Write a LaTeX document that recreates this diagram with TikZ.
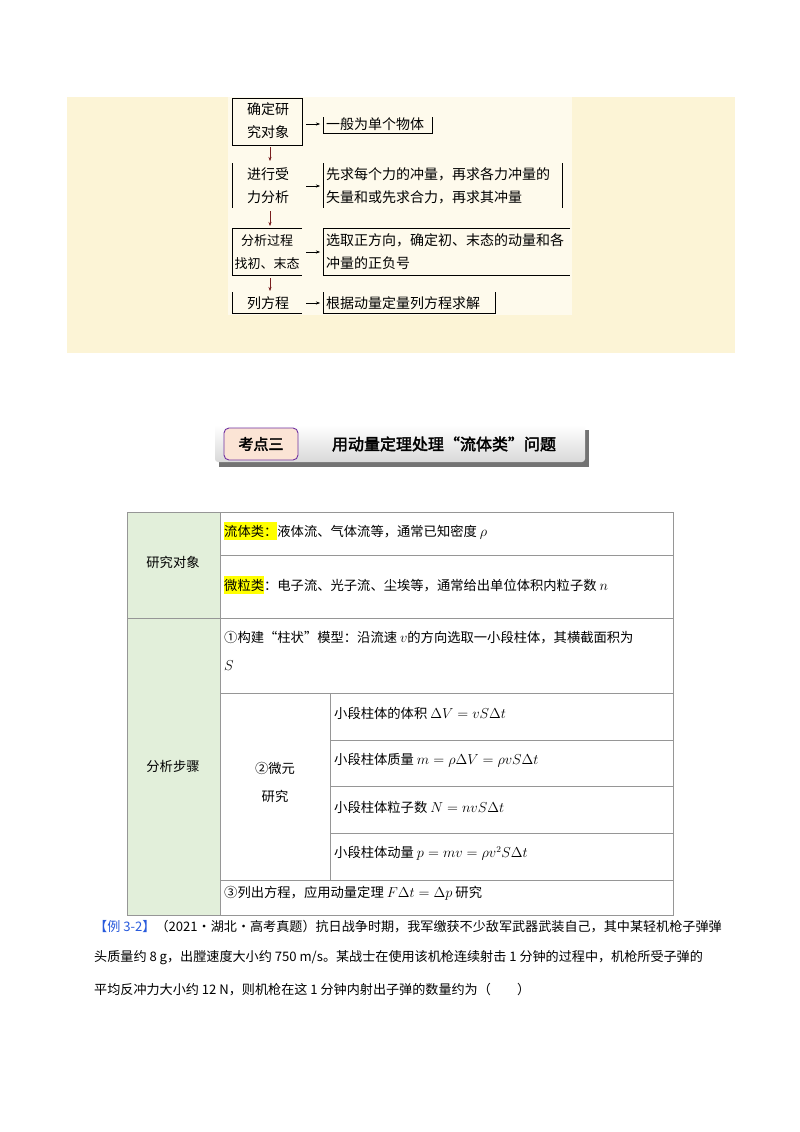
\documentclass[tikz,border=0pt]{standalone}
\usepackage{fontspec}
\newfontfamily\cjk{Noto Sans CJK SC}
\newfontfamily\cjkb[FakeBold=2.5]{Noto Sans CJK SC}
\usetikzlibrary{positioning, arrows.meta, shadows}
\definecolor{bandfill}{RGB}{252, 244, 214}
\definecolor{picfill}{RGB}{254, 250, 236}
\definecolor{cellgreen}{RGB}{226, 239, 218}
\definecolor{tagfill}{RGB}{251, 228, 213}
\definecolor{tagline}{RGB}{112, 48, 160}
\definecolor{rulegray}{RGB}{150, 150, 150}
\definecolor{arrowred}{RGB}{120, 30, 30}
\definecolor{hiyellow}{RGB}{255, 255, 0}
\definecolor{exblue}{RGB}{40, 90, 220}
\tikzset{
    x=1pt, y=-1pt,
    every node/.style={font=\cjk\fontsize{14}{23}\selectfont},
    flowtext/.style={align=center, inner sep=0pt},
    steptext/.style={align=left, inner sep=0pt},
    downarrow/.style={-{Stealth[length=4pt]}, arrowred, thin},
    sidearrow/.style={-{Stealth[length=4pt]}, black, thin},
    cellrule/.style={rulegray, line width=0.8pt},
    celltext/.style={anchor=west, inner sep=0pt, align=left,
        font=\cjk\fontsize{13.3}{28}\selectfont},
}
\newcommand{\hl}[1]{\colorbox{hiyellow}{\hspace{-3pt}#1\hspace{-3pt}}}
\begin{document}
\begin{tikzpicture}
    \useasboundingbox (0, 0) rectangle (800, 1132);
    \fill[white] (0, 0) rectangle (800, 1132);
    % flow chart band
    \fill[bandfill] (67, 97) rectangle (735, 353);
    \fill[picfill] (228, 97) rectangle (572, 315);
    \draw[thin] (232, 98) rectangle (302, 145);
    \draw[thin] (232, 163) -- (232, 208);
    \draw[thin] (302, 228) -- (232, 228) -- (232, 275) -- (302, 275);
    \draw[thin] (232, 292) -- (232, 313) -- (302, 313);
    \draw[thin] (323, 117) -- (323, 133) -- (432, 133) -- (432, 117);
    \draw[thin] (323, 163) -- (323, 208);
    \draw[thin] (562, 163) -- (562, 208);
    \draw[thin] (570, 228) -- (323, 228) -- (323, 275) -- (570, 275);
    \draw[thin] (323, 292) -- (323, 313) -- (495, 313) -- (495, 292);
    \node[flowtext] (obj) at (268, 121) {确定研\\究对象};
    \node[flowtext] (force) at (268, 186) {进行受\\力分析};
    \node[flowtext, font=\cjk\fontsize{13}{23}\selectfont] (proc) at (267, 252)
        {分析过程\\找初、末态};
    \node[flowtext] (eqn) at (268, 303) {列方程};
    \node[steptext, anchor=west] (objr) at (326, 124) {一般为单个物体};
    \node[steptext, anchor=west] (forcer) at (326, 186)
        {先求每个力的冲量，再求各力冲量的\\矢量和或先求合力，再求其冲量};
    \node[steptext, anchor=west] (procr) at (326, 252)
        {选取正方向，确定初、末态的动量和各\\冲量的正负号};
    \node[steptext, anchor=west] (eqnr) at (326, 303) {根据动量定量列方程求解};
    \draw[downarrow] (270, 147) -- (270, 161);
    \draw[downarrow] (270, 211) -- (270, 226);
    \draw[downarrow] (270, 278) -- (270, 291);
    \foreach \l in {obj, force, proc, eqn}
        \draw[sidearrow] (306, 0 |- \l r.west) -- (320, 0 |- \l r.west);
    % banner
    \fill[black!55] (219, 430) rectangle (589, 467);
    \shade[top color=white, bottom color=black!15, rounded corners=3pt]
        (215, 425) rectangle (585, 462);
    \node[draw=tagline, fill=tagfill, rounded corners=5pt, line width=0.9pt,
        minimum width=74pt, minimum height=32pt,
        font=\cjkb\fontsize{15}{16}\selectfont] (tag) at (261, 444) {考点三};
    \node[font=\cjkb\fontsize{16}{18}\selectfont] (title) at (444, 444)
        {用动量定理处理“流体类”问题};
    % table
    \fill[cellgreen] (127, 512) rectangle (220, 915);
    \draw[cellrule] (127, 512) rectangle (673, 915);
    \draw[cellrule] (220, 512) -- (220, 915);
    \draw[cellrule] (127, 618) -- (673, 618);
    \draw[cellrule] (220, 555) -- (673, 555);
    \draw[cellrule] (220, 693) -- (673, 693);
    \draw[cellrule] (220, 880) -- (673, 880);
    \draw[cellrule] (330, 693) -- (330, 880);
    \foreach \y in {740, 786, 833}
        \draw[cellrule] (330, \y) -- (673, \y);
    \node[font=\cjk\fontsize{13.3}{16}\selectfont] (objcell) at (173, 562) {研究对象};
    \node[font=\cjk\fontsize{13.3}{16}\selectfont] (stepcell) at (173, 766) {分析步骤};
    \node[celltext] (fluid) at (224, 531)
        {\hl{流体类：}液体流、气体流等，通常已知密度 $\rho$};
    \node[celltext] (particle) at (224, 585)
        {\hl{微粒类}：电子流、光子流、尘埃等，通常给出单位体积内粒子数 $n$};
    \node[celltext] (model) at (224, 651)
        {①构建“柱状”模型：沿流速 $v$的方向选取一小段柱体，其横截面积为\\$S$};
    \node[font=\cjk\fontsize{13.3}{28}\selectfont, align=center] (micro) at (275, 782)
        {②微元\\研究};
    \node[celltext] (vol) at (334, 713) {小段柱体的体积 $\Delta V = vS\Delta t$};
    \node[celltext] (mass) at (334, 760) {小段柱体质量 $m = \rho\Delta V = \rho vS\Delta t$};
    \node[celltext] (count) at (334, 807) {小段柱体粒子数 $N = nvS\Delta t$};
    \node[celltext] (mom) at (334, 853) {小段柱体动量 $p = mv = \rho v^2S\Delta t$};
    \node[celltext] (law) at (224, 893) {③列出方程，应用动量定理 $F\Delta t = \Delta p$ 研究};
    % example text
    \node[anchor=west, inner sep=0pt, font=\cjk\fontsize{13.1}{16}\selectfont] (ex1) at (94, 927)
        {\textcolor{exblue}{【例 3-2】}（2021·湖北·高考真题）抗日战争时期，我军缴获不少敌军武器武装自己，其中某轻机枪子弹弹};
    \node[anchor=west, inner sep=0pt, font=\cjk\fontsize{13.1}{16}\selectfont] (ex2) at (94, 958)
        {头质量约 8 g，出膛速度大小约 750 m/s。某战士在使用该机枪连续射击 1 分钟的过程中，机枪所受子弹的};
    \node[anchor=west, inner sep=0pt, font=\cjk\fontsize{13.1}{16}\selectfont] (ex3) at (94, 990)
        {平均反冲力大小约 12 N，则机枪在这 1 分钟内射出子弹的数量约为（\qquad）};
\end{tikzpicture}
\end{document}
